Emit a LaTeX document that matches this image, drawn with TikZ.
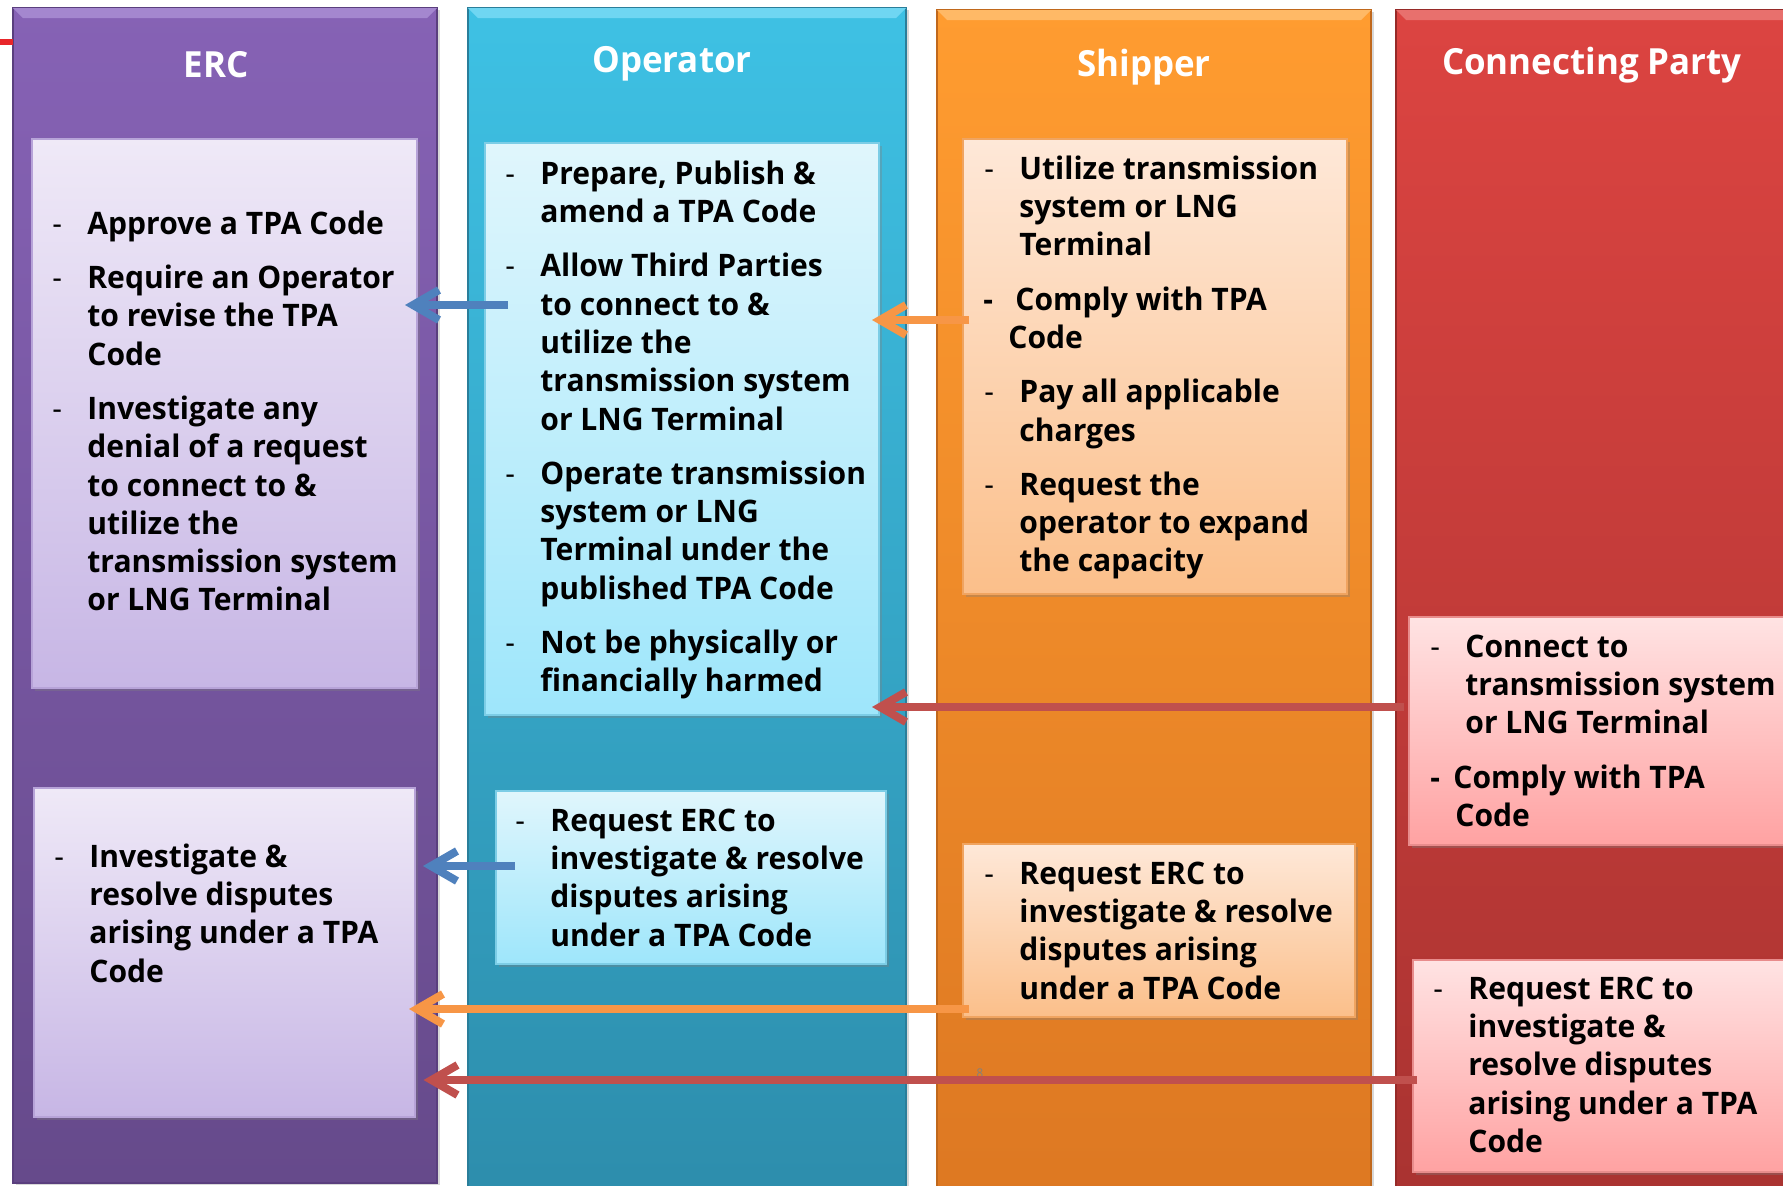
\documentclass[tikz,border=0pt]{standalone}
\usepackage{fontspec}
\setmainfont[FakeStretch=0.97]{Open Sans}
\usetikzlibrary{arrows.meta,shadows,calc}
\definecolor{ercT}{HTML}{8662B5}\definecolor{ercB}{HTML}{664A8B}\definecolor{ercD}{HTML}{5A3F7E}\definecolor{ercL}{HTML}{A487CF}
\definecolor{opT}{HTML}{3EC1E4}\definecolor{opB}{HTML}{2D8DAC}\definecolor{opD}{HTML}{2A7E9A}\definecolor{opL}{HTML}{6FD6F2}
\definecolor{shT}{HTML}{FF9C30}\definecolor{shB}{HTML}{DD7822}\definecolor{shD}{HTML}{C0681C}\definecolor{shL}{HTML}{FFB966}
\definecolor{cpT}{HTML}{DC4441}\definecolor{cpB}{HTML}{A93331}\definecolor{cpD}{HTML}{962A28}\definecolor{cpL}{HTML}{E8706D}
\definecolor{ercbT}{HTML}{EFE9F7}\definecolor{ercbB}{HTML}{C7B6E5}\definecolor{ercbD}{HTML}{B7A3D8}
\definecolor{opbT}{HTML}{E0F6FC}\definecolor{opbB}{HTML}{9EE6FB}\definecolor{opbD}{HTML}{7CCDE6}
\definecolor{shbT}{HTML}{FEE8D8}\definecolor{shbB}{HTML}{FBBF8A}\definecolor{shbD}{HTML}{F0A460}
\definecolor{cpbT}{HTML}{FFE3E3}\definecolor{cpbB}{HTML}{FFA2A2}\definecolor{cpbD}{HTML}{E88C8C}
\definecolor{aBlue}{HTML}{4F81BD}\definecolor{aOrange}{HTML}{F79646}\definecolor{aRed}{HTML}{C0504D}
\definecolor{topRed}{HTML}{E8262A}
\newcommand\dsh{\makebox[17.5pt][l]{\mdseries -}}
\newcommand\myind{\hspace*{17.5pt}}
\begin{document}
\begin{tikzpicture}[x=0.5pt,y=-0.5pt,
  colnode/.style={anchor=north west, inner sep=0pt, outer sep=0pt, line width=1pt,
    drop shadow={shadow xshift=1.5pt, shadow yshift=-1pt, opacity=0.3}},
  boxnode/.style={anchor=north west, inner sep=0pt, outer sep=0pt, line width=0.6pt,
    drop shadow={shadow xshift=1.5pt, shadow yshift=-1.5pt, opacity=0.35}},
  txt/.style={anchor=north west, inner sep=0pt, align=left, text=black,
    font=\fontsize{15.5}{19.15}\selectfont\bfseries},
  ttl/.style={anchor=base, inner sep=0pt, text=white, font=\fontsize{18}{22}\selectfont\bfseries},
  arr/.style={draw=#1, line width=4pt, -{Straight Barb[length=13pt,width=15pt]}}
]
\useasboundingbox (0,0) rectangle (1783,1185);
\fill[white] (0,0) rectangle (1783,1185);

% columns
\node[colnode, top color=ercT, bottom color=ercB, draw=ercD, minimum width=212pt, minimum height=587.5pt] (ercCol) at (13,8) {};
\node[colnode, top color=opT, bottom color=opB, draw=opD, minimum width=219pt, minimum height=595pt] (opCol) at (468,8) {};
\node[colnode, top color=shT, bottom color=shB, draw=shD, minimum width=217pt, minimum height=595pt] (shCol) at (937,10) {};
\node[colnode, top color=cpT, bottom color=cpB, draw=cpD, minimum width=210pt, minimum height=595pt] (cpCol) at (1396,10) {};
% top bevels
\fill[ercL] (ercCol.north west) -- (ercCol.north east) -- ++(-10,10) -- ($(ercCol.north west)+(10,10)$) -- cycle;
\fill[opL] (opCol.north west) -- (opCol.north east) -- ++(-10,10) -- ($(opCol.north west)+(10,10)$) -- cycle;
\fill[shL] (shCol.north west) -- (shCol.north east) -- ++(-10,10) -- ($(shCol.north west)+(10,10)$) -- cycle;
\fill[cpL] (cpCol.north west) -- (cpCol.north east) -- ++(-10,10) -- ($(cpCol.north west)+(10,10)$) -- cycle;

% titles
\node[ttl] (ercTitle) at (216,77) {ERC};
\node[ttl] (opTitle) at (672,72) {Operator};
\node[ttl] (shTitle) at (1144,76) {Shipper};
\node[ttl] (cpTitle) at (1592,74) {Connecting Party};

% red fragment at top left
\coordinate (rl) at (0,42);
\draw[topRed, line width=3pt] (rl) -- (ercCol.west |- rl);

% boxes
\node[boxnode, top color=ercbT, bottom color=ercbB, draw=ercbD, minimum width=192.5pt, minimum height=274.5pt] (erc1) at (32,139) {};
\node[boxnode, top color=ercbT, bottom color=ercbB, draw=ercbD, minimum width=190.5pt, minimum height=164.5pt] (erc2) at (34,788) {};
\node[boxnode, top color=opbT, bottom color=opbB, draw=opbD, minimum width=197pt, minimum height=286pt] (op1) at (485,143) {};
\node[boxnode, top color=opbT, bottom color=opbB, draw=opbD, minimum width=195pt, minimum height=86.5pt] (op2) at (496,791) {};
\node[boxnode, top color=shbT, bottom color=shbB, draw=shbD, minimum width=192pt, minimum height=227.5pt] (sh1) at (963,139) {};
\node[boxnode, top color=shbT, bottom color=shbB, draw=shbD, minimum width=196pt, minimum height=86.5pt] (sh2) at (963,844) {};
\node[boxnode, top color=cpbT, bottom color=cpbB, draw=cpbD, minimum width=195.5pt, minimum height=114pt] (cp1) at (1409,617) {};
\node[boxnode, top color=cpbT, bottom color=cpbB, draw=cpbD, minimum width=193.5pt, minimum height=106pt] (cp2) at (1413,960) {};

% texts
\node[txt] (erc1t) at (52,207) {\strut\dsh Approve a TPA Code\\[8pt]\dsh Require an Operator\\\myind to revise the TPA\\\myind Code\\[8pt]\dsh Investigate any\\\myind denial of a request\\\myind to connect to \&\\\myind utilize the\\\myind transmission system\\\myind or LNG Terminal};
\node[txt] (erc2t) at (54,840) {\strut\dsh Investigate \&\\\myind resolve disputes\\\myind arising under a TPA\\\myind Code};
\node[txt] (op1t) at (505,157) {\strut\dsh Prepare, Publish \&\\\myind amend a TPA Code\\[8pt]\dsh Allow Third Parties\\\myind to connect to \&\\\myind utilize the\\\myind transmission system\\\myind or LNG Terminal\\[8pt]\dsh Operate transmission\\\myind system or LNG\\\myind Terminal under the\\\myind published TPA Code\\[8pt]\dsh Not be physically or\\\myind financially harmed};
\node[txt] (op2t) at (515,804) {\strut\dsh Request ERC to\\\myind investigate \& resolve\\\myind disputes arising\\\myind under a TPA Code};
\node[txt] (sh1t) at (984,152) {\strut\dsh Utilize transmission\\\myind system or LNG\\\myind Terminal\\[8pt]\hspace*{-0.5pt}\makebox[16pt][l]{-}Comply with TPA\\\hspace*{12pt}Code\\[8pt]\dsh Pay all applicable\\\myind charges\\[8pt]\dsh Request the\\\myind operator to expand\\\myind the capacity};
\node[txt] (sh2t) at (984,857) {\strut\dsh Request ERC to\\\myind investigate \& resolve\\\myind disputes arising\\\myind under a TPA Code};
\node[txt] (cp1t) at (1430,630) {\strut\dsh Connect to\\\myind transmission system\\\myind or LNG Terminal\\[8pt]\makebox[11.5pt][l]{-}Comply with TPA\\\hspace*{12.5pt}Code};
\node[txt] (cp2t) at (1433,972) {\strut\dsh Request ERC to\\\myind investigate \&\\\myind resolve disputes\\\myind arising under a TPA\\\myind Code};

% small mark
\node[inner sep=0pt, text=gray, font=\fontsize{6}{6}\selectfont] (mark) at (980,1073) {8};

% arrows
\coordinate (y1) at (0,305);
\coordinate (y2) at (0,320);
\coordinate (y3) at (0,707);
\coordinate (y4) at (0,866);
\coordinate (y5) at (0,1009);
\coordinate (y6) at (0,1080);
\draw[arr=aBlue] ($(op1.west|-y1)+(23,0)$) -- ($(erc1.east|-y1)+(-12,0)$);
\draw[arr=aOrange] ($(sh1.west|-y2)+(6,0)$) -- ($(op1.east|-y2)+(-7,0)$);
\draw[arr=aRed] ($(cp1.west|-y3)+(-5,0)$) -- ($(op1.east|-y3)+(-7,0)$);
\draw[arr=aBlue] ($(op2.west|-y4)+(19,0)$) -- ($(erc2.east|-y4)+(8,0)$);
\draw[arr=aOrange] ($(sh2.west|-y5)+(6,0)$) -- ($(erc2.east|-y5)+(-6,0)$);
\draw[arr=aRed] ($(cp2.west|-y6)+(4,0)$) -- ($(erc2.east|-y6)+(8.5,0)$);
\end{tikzpicture}
\end{document}
